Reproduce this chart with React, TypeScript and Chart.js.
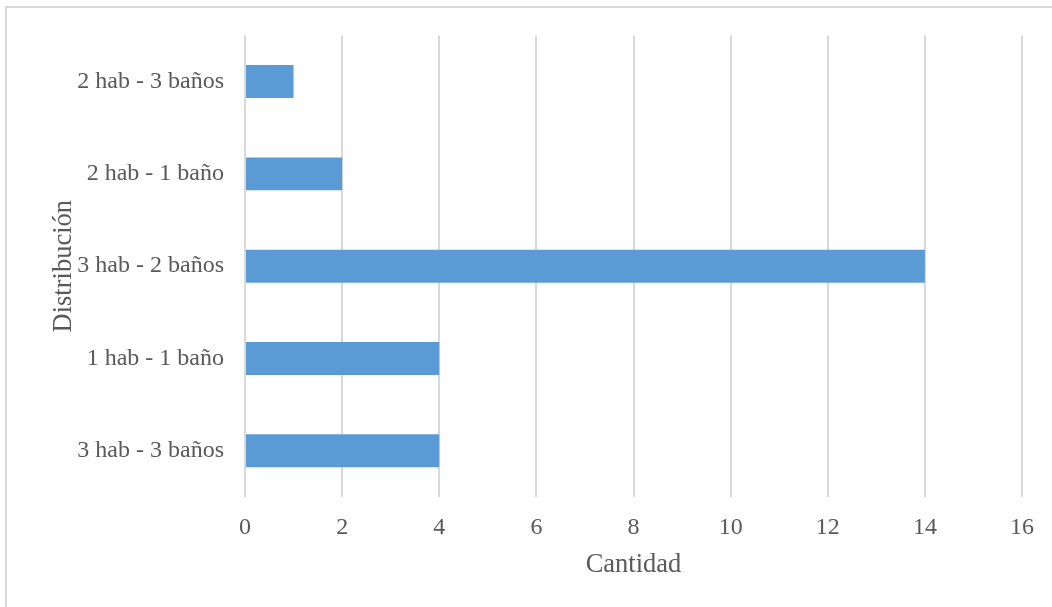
import React, { useEffect, useRef } from "react";
import { Chart, registerables } from "chart.js";

Chart.register(...registerables);

const categories: string[] = [
  "2 hab - 3 baños",
  "2 hab - 1 baño",
  "3 hab - 2 baños",
  "1 hab - 1 baño",
  "3 hab - 3 baños",
];
const cantidades: number[] = [1, 2, 14, 4, 4];
const xMin = 0;
const xMax = 16;
const xStep = 2;
const xTitle = "Cantidad";
const yTitle = "Distribución";

const FONT = "'Liberation Serif', 'Times New Roman', serif";

export default function App() {
  const ref = useRef<HTMLCanvasElement | null>(null);

  useEffect(() => {
    document.body.style.margin = "0";
    const canvas = ref.current;
    if (!canvas) return;
    const chart = new Chart(canvas, {
      type: "bar",
      data: {
        labels: categories,
        datasets: [
          {
            label: xTitle,
            data: cantidades,
            backgroundColor: "#5B9BD5",
            borderWidth: 0,
            barPercentage: 0.357,
            categoryPercentage: 1,
          },
        ],
      },
      options: {
        indexAxis: "y",
        responsive: false,
        animation: false,
        maintainAspectRatio: false,
        layout: { padding: { top: 35, right: 30, left: 0, bottom: 0 } },
        plugins: {
          legend: { display: false },
          tooltip: { enabled: false },
        },
        scales: {
          x: {
            type: "linear",
            min: xMin,
            max: xMax,
            ticks: {
              stepSize: xStep,
              color: "#595959",
              font: { family: FONT, size: 24 },
              padding: 16,
            },
            grid: {
              color: "#d9d9d9",
              lineWidth: 2,
              drawTicks: false,
            },
            border: { display: false },
            title: {
              display: true,
              text: xTitle,
              color: "#595959",
              font: { family: FONT, size: 26.5 },
              padding: { top: 0, bottom: 26 },
            },
            afterFit: (s: any) => {
              s.height = 110;
            },
          },
          y: {
            type: "category",
            ticks: {
              color: "#595959",
              font: { family: FONT, size: 24 },
              padding: 21,
            },
            grid: { display: false, drawTicks: false },
            border: { display: false },
            title: {
              display: true,
              text: yTitle,
              color: "#595959",
              font: { family: FONT, size: 26.5 },
              padding: { top: 48, bottom: 0 },
            },
            afterFit: (s: any) => {
              s.width = 245;
            },
          },
        },
      },
    });
    return () => chart.destroy();
  }, []);

  return (
    <div
      style={{
        position: "relative",
        width: 1052,
        height: 607,
        overflow: "hidden",
        background: "#fff",
      }}
    >
      <div
        style={{
          position: "absolute",
          left: 5,
          top: 6,
          width: 3000,
          height: 3000,
          borderLeft: "2px solid #d9d9d9",
          borderTop: "2px solid #d9d9d9",
        }}
      />
      <canvas
        ref={ref}
        width={1052}
        height={607}
        style={{ position: "absolute", left: 0, top: 0, display: "block" }}
      />
    </div>
  );
}
